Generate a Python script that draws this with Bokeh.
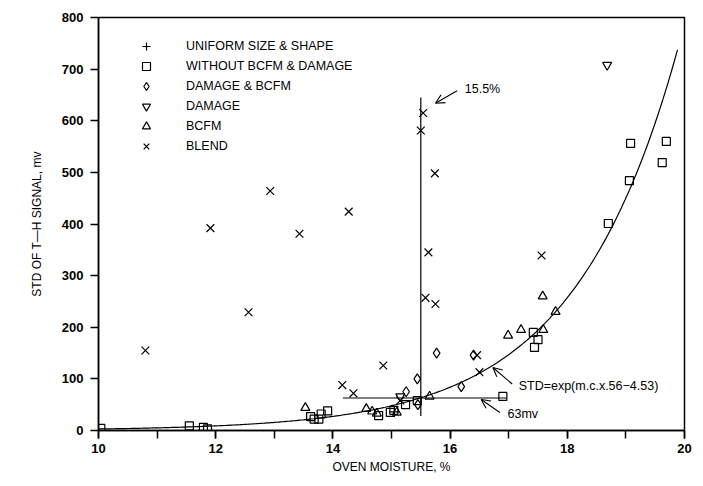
import numpy as np
from bokeh.plotting import figure
from bokeh.models import (Range1d, FixedTicker, Legend, LegendItem, Arrow, OpenHead, Label)
from bokeh.embed import file_html
from bokeh.resources import INLINE

# ---------------- data ----------------
uniform_x = [15.05]
uniform_y = [36]

without_x = [10.04, 11.55, 11.79, 11.86, 13.62, 13.68, 13.76, 13.80, 13.91,
             14.78, 14.98, 15.04, 15.24, 15.44, 16.90, 17.42, 17.50, 17.44,
             18.70, 19.06, 19.08, 19.62, 19.69]
without_y = [4, 9, 6, 3, 27, 22, 22, 32, 38,
             29, 35, 39, 50, 58, 66, 190, 176, 161,
             401, 484, 556, 519, 560]

dmg_bcfm_x = [15.25, 15.44, 15.45, 15.77, 16.40, 16.19]
dmg_bcfm_y = [75, 100, 50, 150, 146, 85]

damage_x = [18.68, 15.15]
damage_y = [708, 66]

bcfm_x = [13.53, 14.57, 14.67, 14.75, 15.09, 15.65, 16.99, 17.21, 17.59, 17.58, 17.80]
bcfm_y = [44, 42, 37, 33, 35, 66, 184, 195, 195, 260, 230]

blend_x = [10.80, 11.91, 12.56, 12.93, 13.43, 14.27, 14.16, 14.35, 14.86, 15.15,
           15.54, 15.50, 15.74, 15.63, 15.58, 15.75, 16.46, 16.50, 17.56]
blend_y = [155, 392, 229, 464, 381, 424, 88, 72, 126, 58,
           615, 581, 498, 345, 257, 245, 146, 113, 339]

# fitted curve as printed on the chart: STD = exp(m.c. x .56 - 4.53)
fit_slope = 0.56
fit_intercept = -4.53
fit_x_start = 10.0
fit_x_end = 19.88

# reference lines
crit_moisture = 15.5
crit_std = 63
vline_y = [28, 645]
hline_x = [14.17, 16.97]

x_ticks = [10, 12, 14, 16, 18, 20]
y_ticks = [0, 100, 200, 300, 400, 500, 600, 700, 800]

labels = ["UNIFORM SIZE & SHAPE", "WITHOUT BCFM & DAMAGE", "DAMAGE & BCFM",
          "DAMAGE", "BCFM", "BLEND"]

FONT = "Liberation Sans"

p = figure(width=695, height=478, output_backend="svg", toolbar_location=None,
           x_range=Range1d(10, 20), y_range=Range1d(0, 800),
           min_border_left=98, min_border_right=11, min_border_top=17,
           min_border_bottom=48)
p.grid.visible = False
p.outline_line_color = "black"
p.outline_line_width = 1.5
p.background_fill_color = "white"
p.border_fill_color = "white"

# axes
p.xaxis.ticker = FixedTicker(ticks=x_ticks, minor_ticks=list(range(10, 21)))
p.yaxis.ticker = FixedTicker(ticks=y_ticks, minor_ticks=[])
for ax in (p.xaxis, p.yaxis):
    ax.axis_line_width = 1.5
    ax.major_tick_line_width = 1.5
    ax.minor_tick_line_width = 1.5
    ax.major_tick_out = 8
    ax.major_tick_in = 0
    ax.minor_tick_out = 8
    ax.minor_tick_in = 0
    ax.major_label_text_font = FONT
    ax.major_label_text_font_style = "bold"
    ax.major_label_text_font_size = "13px"
    ax.major_label_text_color = "black"
    ax.axis_label_text_font = FONT
    ax.axis_label_text_font_style = "normal"
    ax.axis_label_text_font_size = "12px"
    ax.axis_label_text_color = "black"
p.xaxis.axis_label = "OVEN MOISTURE, %"
p.yaxis.axis_label = "STD OF T\u2014H SIGNAL, mv"
p.xaxis.major_label_standoff = 5
p.xaxis.axis_label_standoff = 4
p.yaxis.major_label_standoff = 7
p.yaxis.axis_label_standoff = 15

# fitted curve
cx = np.linspace(fit_x_start, fit_x_end, 300)
cy = np.exp(fit_slope * cx + fit_intercept)
p.line(cx, cy, line_color="black", line_width=1.2)

# reference lines
p.line([crit_moisture, crit_moisture], vline_y, line_color="black", line_width=1.2)
p.line(hline_x, [crit_std, crit_std], line_color="black", line_width=1.2)

mk = dict(fill_color=None, line_color="black", line_width=1.2)
r_u = p.scatter(uniform_x, uniform_y, marker="cross", size=10, **mk)
r_w = p.scatter(without_x, without_y, marker="square", size=8, **mk)
r_d = p.scatter(dmg_bcfm_x, dmg_bcfm_y, marker="diamond", size=10, **mk)
r_g = p.scatter(damage_x, damage_y, marker="inverted_triangle", size=9, **mk)
r_b = p.scatter(bcfm_x, bcfm_y, marker="triangle", size=9, **mk)
r_x = p.scatter(blend_x, blend_y, marker="x", size=11, **mk)

legend = Legend(items=[LegendItem(label=l, renderers=[r]) for l, r in
                       zip(labels, [r_u, r_w, r_d, r_g, r_b, r_x])],
                location=(38, 274), orientation="vertical",
                border_line_color=None, background_fill_alpha=0,
                padding=0, margin=0, spacing=0,
                glyph_width=20, glyph_height=20, label_height=20,
                label_standoff=30,
                label_text_font=FONT, label_text_font_size="12.5px",
                label_text_color="black")
p.add_layout(legend, "center")

# annotations
ann_font = dict(text_font=FONT, text_font_size="12.5px", text_color="black",
                text_baseline="middle")
p.add_layout(Label(x=16.25, y=661, text="15.5%", **ann_font))
p.add_layout(Label(x=17.17, y=87, text="STD=exp(m.c.x.56\u22124.53)", **ann_font))
p.add_layout(Label(x=16.98, y=32, text="63mv", **ann_font))

def arrow(x0, y0, x1, y1):
    p.add_layout(Arrow(end=OpenHead(size=9, line_width=1.1, line_color="black"),
                       x_start=x0, y_start=y0, x_end=x1, y_end=y1,
                       line_color="black", line_width=1.1))

arrow(16.12, 658, 15.75, 634)
arrow(17.06, 90, 16.73, 122)
arrow(16.85, 35, 16.53, 60)

open("out.html", "w").write(file_html(p, INLINE))
